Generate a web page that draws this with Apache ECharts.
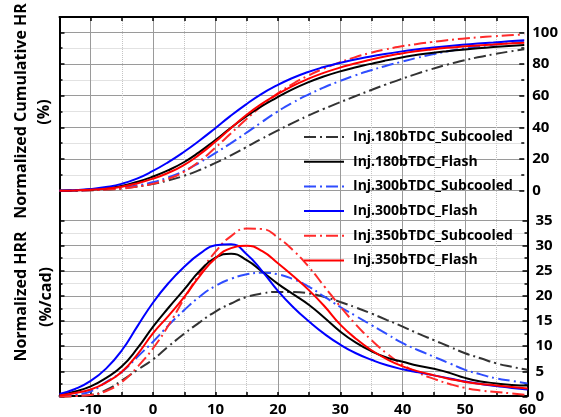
<!DOCTYPE html>
<html>
<head>
<meta charset="utf-8">
<script src="https://cdn.jsdelivr.net/npm/echarts@6/dist/echarts.min.js"></script>
<style>
  html, body { margin: 0; padding: 0; background: #ffffff; }
  #chart { width: 561px; height: 417px; }
</style>
</head>
<body>
<div id="chart"></div>
<script>
// Crank angle (cad), shared by every curve
const crankAngle = [-15, -12.5, -10, -7.5, -5, -2.5, 0, 2.5, 5, 7.5, 10, 12.5, 15, 17.5, 20, 22.5,
  25, 27.5, 30, 32.5, 35, 37.5, 40, 42.5, 45, 47.5, 50, 52.5, 55, 57.5, 60];

const caseNames = ['Inj.180bTDC_Subcooled', 'Inj.180bTDC_Flash', 'Inj.300bTDC_Subcooled',
  'Inj.300bTDC_Flash', 'Inj.350bTDC_Subcooled', 'Inj.350bTDC_Flash'];

// Normalized cumulative heat release (%)
const cumHR180Sub = [0, 0.1, 0.3, 0.7, 1.4, 2.6, 4.2, 6.4, 9.3, 12.9, 17.2, 22, 27.2, 32.5, 37.6, 42.5,
  47.1, 51.4, 55.4, 59.3, 63.1, 66.8, 70.3, 73.6, 76.7, 79.5, 82, 84.2, 86.1, 87.8, 89.3];
const cumHR180Flash = [0, 0.2, 0.7, 1.6, 3, 5.5, 8.8, 12.8, 17.8, 24.2, 31.5, 39.2, 46.5, 53, 58.6, 63.8,
  68.2, 71.9, 75, 77.6, 79.9, 82.1, 84, 85.6, 87, 88.1, 89, 89.9, 90.7, 91.4, 92];
const cumHR300Sub = [0, 0.1, 0.4, 1, 1.9, 3.3, 5.3, 8.3, 12.3, 17.5, 23.4, 29.6, 36.1, 42.9, 49.5, 55.3,
  60.4, 64.9, 68.9, 72.5, 75.7, 78.6, 81.2, 83.7, 85.9, 87.9, 89.6, 91, 92.1, 93.1, 94];
const cumHR300Flash = [0, 0.3, 1, 2.3, 4.3, 7.6, 12.3, 17.9, 24.3, 31.4, 39, 46.9, 54.2, 60.8, 66.3, 71,
  74.8, 77.9, 80.5, 82.7, 84.6, 86.3, 87.8, 89.1, 90.2, 91.2, 92.1, 92.9, 93.6, 94.3, 95];
const cumHR350Sub = [0, 0.1, 0.3, 0.7, 1.3, 2.6, 4.3, 7.4, 11.8, 18.3, 26.6, 35.6, 44.6, 53.2, 60.8, 67.1,
  72.4, 76.9, 80.7, 84, 86.8, 89.1, 91, 92.5, 93.8, 95, 96, 96.8, 97.5, 98.1, 98.7];
const cumHR350Flash = [0, 0.2, 0.6, 1.3, 2.5, 4.6, 7.5, 11.2, 16, 22.6, 30.4, 39, 47.3, 54.5, 60.5, 65.9,
  70.4, 74.2, 77.4, 80.1, 82.5, 84.7, 86.5, 88, 89.2, 90.2, 91, 91.7, 92.3, 92.9, 93.4];

// Normalized heat release rate (%/cad)
const hrr180Sub = [0, 0.1, 0.3, 1.3, 3.2, 5.3, 7.4, 10, 12.5, 14.8, 16.9, 18.5, 19.8, 20.5, 20.8, 20.8,
  20.5, 19.8, 18.8, 17.7, 16.5, 15.2, 13.9, 12.5, 11.2, 9.9, 8.6, 7.6, 6.6, 5.9, 5.3];
const hrr180Flash = [0.3, 1, 2, 3.7, 6, 9.6, 13.9, 17.7, 21.3, 25, 27.6, 28.4, 27.1, 24.8, 22.4, 20.3,
  18.2, 15.6, 12.9, 10.7, 9, 7.7, 6.9, 6.1, 5.5, 4.7, 3.7, 3, 2.6, 2.3, 2.2];
const hrr300Sub = [0, 0.4, 1, 2.9, 4.9, 7.9, 10.9, 14.2, 17.2, 19.9, 22, 23.4, 24.3, 24.6, 24.3, 23.3,
  21.8, 19.8, 17.8, 16, 14.2, 12.4, 10.6, 9.2, 7.9, 6.6, 5.3, 4.4, 3.6, 3.1, 2.6];
const hrr300Flash = [0.5, 1.5, 3.1, 5.6, 9.2, 14, 18.7, 22.6, 25.8, 28.4, 30.1, 30.3, 28.3, 24.9, 21, 17.7,
  14.9, 12.4, 10.3, 8.6, 7.3, 6.2, 5.4, 4.8, 4.2, 3.6, 3.0, 2.5, 2.1, 1.7, 1.4];
const hrr350Sub = [0, 0.1, 0.3, 1.1, 2.9, 5.9, 9.6, 14.2, 19.5, 24.5, 28.8, 31.9, 33.4, 33.3, 31.6, 29,
  25.7, 21.8, 17.9, 14.3, 11.2, 8.5, 6.3, 4.7, 3.5, 2.5, 1.7, 1.2, 0.9, 0.6, 0.3];
const hrr350Flash = [0.2, 0.7, 1.4, 2.8, 4.9, 8.4, 12.6, 16.1, 19.8, 24, 27.5, 29.5, 30, 28.9, 26.5, 23.9,
  21.1, 17.9, 14.3, 11.5, 9.2, 7.4, 6, 5, 4.2, 3.5, 2.9, 2.5, 2.2, 1.9, 1.6];

// Axis tick labels
const xTickLabels = [-10, 0, 10, 20, 30, 40, 50, 60];
const cumTickLabels = [0, 20, 40, 60, 80, 100];
const hrrTickLabels = [0, 5, 10, 15, 20, 25, 30, 35];

const FONT = '"Open Sans", "DejaVu Sans", sans-serif';
const GRID_SOLID = '#9a9a9a';
const GRID_DOT = '#c4c4c4';
const DASH_DOT = [12, 4, 2, 4];

const caseStyles = [
  { color: '#333333', type: DASH_DOT },
  { color: '#000000', type: 'solid' },
  { color: '#2f4dff', type: DASH_DOT },
  { color: '#0000ff', type: 'solid' },
  { color: '#ff2a2a', type: DASH_DOT },
  { color: '#ff0000', type: 'solid' }
];

const cumSets = [cumHR180Sub, cumHR180Flash, cumHR300Sub, cumHR300Flash, cumHR350Sub, cumHR350Flash];
const hrrSets = [hrr180Sub, hrr180Flash, hrr300Sub, hrr300Flash, hrr350Sub, hrr350Flash];

function pairs(values) {
  return crankAngle.map((x, i) => [x, values[i]]);
}

function makeSeries(values, idx, xAxisIndex, yAxisIndex) {
  const st = caseStyles[idx];
  return {
    name: caseNames[idx],
    type: 'line',
    xAxisIndex: xAxisIndex,
    yAxisIndex: yAxisIndex,
    data: pairs(values),
    symbol: 'none',
    smooth: 0.5,
    clip: false,
    lineStyle: { color: st.color, width: 2, type: st.type },
    itemStyle: { color: st.color },
    z: idx % 2 === 1 ? 4 : 3
  };
}

const series = [];
cumSets.forEach((v, i) => series.push(makeSeries(v, i, 3, 2)));
hrrSets.forEach((v, i) => series.push(makeSeries(v, i, 4, 4)));

const frame = { left: 59.5, width: 468, top: 17, height: 379.5 };
const topPanel = { left: 59.5, width: 468, top: 32.3, height: 158.4 };
const bottomPanel = { left: 59.5, width: 468, top: 220.5, height: 176 };

const labelFont = { fontFamily: FONT, fontWeight: 'bold', fontSize: 15, color: '#000' };
const borderLine = { show: true, onZero: false, lineStyle: { color: '#000', width: 2 } };
const tickStyle = { color: '#000', width: 1.5 };

function scaleTicks(extra) {
  return Object.assign({
    axisLine: { show: false, onZero: false },
    axisTick: { show: true, inside: true, length: 5, lineStyle: tickStyle },
    minorTick: { show: true, splitNumber: 2, length: 3, lineStyle: tickStyle }
  }, extra);
}

const option = {
  animation: false,
  backgroundColor: '#ffffff',
  grid: [frame, topPanel, bottomPanel],
  xAxis: [
    { // bottom axis with labels and solid major grid
      gridIndex: 0, type: 'value', position: 'bottom', min: -15, max: 60, interval: 5,
      axisLine: borderLine,
      axisTick: { show: true, inside: true, length: 4, lineStyle: tickStyle },
      axisLabel: {
        ...labelFont, margin: 6,
        formatter: v => (xTickLabels.includes(v) ? String(v) : '')
      },
      splitLine: { show: true, lineStyle: { color: ['rgba(0,0,0,0)', GRID_SOLID], width: 1, type: 'solid' } }
    },
    { // dotted minor vertical grid
      gridIndex: 0, type: 'value', position: 'bottom', min: -15, max: 60, interval: 5,
      axisLine: { show: false, onZero: false }, axisTick: { show: false }, axisLabel: { show: false },
      splitLine: { show: true, lineStyle: { color: [GRID_DOT, 'rgba(0,0,0,0)'], width: 1, type: 'dotted' } }
    },
    { // top border
      gridIndex: 0, type: 'value', position: 'top', min: -15, max: 60, interval: 5,
      axisLine: borderLine,
      axisTick: { show: true, inside: true, length: 4, lineStyle: tickStyle },
      axisLabel: { show: false }, splitLine: { show: false }
    },
    { gridIndex: 1, type: 'value', min: -15, max: 60, show: false, axisLine: { onZero: false } },
    { gridIndex: 2, type: 'value', min: -15, max: 60, show: false, axisLine: { onZero: false } }
  ],
  yAxis: [
    { // left border
      gridIndex: 0, type: 'value', position: 'left', min: 0, max: 1,
      axisLine: borderLine,
      axisTick: { show: false }, axisLabel: { show: false }, splitLine: { show: false }
    },
    { // right border
      gridIndex: 0, type: 'value', position: 'right', min: 0, max: 1,
      axisLine: borderLine,
      axisTick: { show: false }, axisLabel: { show: false }, splitLine: { show: false }
    },
    scaleTicks({ // cumulative HR scale (right)
      gridIndex: 1, type: 'value', position: 'right', min: 0, max: 100, interval: 20,
      axisLabel: { ...labelFont, margin: 8, formatter: v => (cumTickLabels.includes(v) ? String(v) : '') },
      splitLine: { show: true, lineStyle: { color: GRID_SOLID, width: 1 } },
      minorSplitLine: { show: true, lineStyle: { color: GRID_DOT, width: 1, type: 'dotted' } }
    }),
    scaleTicks({ // cumulative HR ticks (left)
      gridIndex: 1, type: 'value', position: 'left', min: 0, max: 100, interval: 20,
      axisLabel: { show: false }, splitLine: { show: false }
    }),
    scaleTicks({ // HRR scale (right)
      gridIndex: 2, type: 'value', position: 'right', min: 0, max: 35, interval: 5,
      axisLabel: { ...labelFont, margin: 8, formatter: v => (hrrTickLabels.includes(v) ? String(v) : '') },
      splitLine: { show: true, lineStyle: { color: GRID_SOLID, width: 1 } },
      minorSplitLine: { show: true, lineStyle: { color: GRID_DOT, width: 1, type: 'dotted' } }
    }),
    scaleTicks({ // HRR ticks (left)
      gridIndex: 2, type: 'value', position: 'left', min: 0, max: 35, interval: 5,
      axisLabel: { show: false }, splitLine: { show: false }
    })
  ],
  legend: {
    data: caseNames,
    orient: 'vertical',
    left: 303,
    top: 130,
    itemWidth: 40,
    itemHeight: 14,
    itemGap: 10.7,
    padding: 0,
    backgroundColor: 'rgba(0,0,0,0)',
    itemStyle: { opacity: 0 },
    textStyle: { fontFamily: FONT, fontWeight: 'bold', fontSize: 14, color: '#000', padding: [0, 0, 0, 4], lineHeight: 14 }
  },
  graphic: [
    { type: 'text', x: 21, y: 111, rotation: Math.PI / 2,
      style: { text: 'Normalized Cumulative HR', font: 'bold 16px ' + FONT, fill: '#000', textAlign: 'center', textVerticalAlign: 'middle' } },
    { type: 'text', x: 44, y: 112, rotation: Math.PI / 2,
      style: { text: '(%)', font: 'bold 16px ' + FONT, fill: '#000', textAlign: 'center', textVerticalAlign: 'middle' } },
    { type: 'text', x: 21, y: 296.5, rotation: Math.PI / 2,
      style: { text: 'Normalized HRR', font: 'bold 16px ' + FONT, fill: '#000', textAlign: 'center', textVerticalAlign: 'middle' } },
    { type: 'text', x: 46, y: 297, rotation: Math.PI / 2,
      style: { text: '(%/cad)', font: 'bold 16px ' + FONT, fill: '#000', textAlign: 'center', textVerticalAlign: 'middle' } }
  ],
  series: series
};

const chart = echarts.init(document.getElementById('chart'), null, { renderer: 'canvas' });
chart.setOption(option);
</script>
</body>
</html>
